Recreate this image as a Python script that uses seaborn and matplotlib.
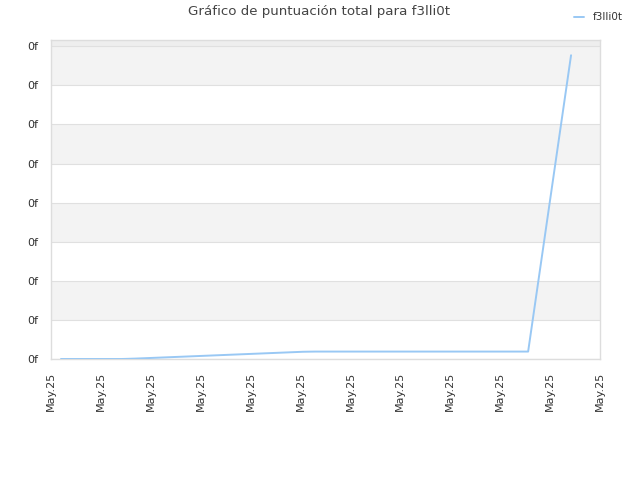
import matplotlib
matplotlib.use("Agg")
import matplotlib.pyplot as plt
import seaborn as sns
import pandas as pd
from matplotlib.ticker import FixedLocator, FuncFormatter

sns.set_theme(style="white")
plt.rcParams['font.family'] = ['DejaVu Sans']

# data (x in tick units, y in arbitrary score units)
time_pos = [0.20, 1.42, 1.68, 2.16, 2.65, 3.13, 3.61, 4.09, 4.57, 5.05, 5.29, 8.66, 9.56, 10.42]
score = [0.0, 0.0, 0.01, 0.035, 0.06, 0.085, 0.11, 0.135, 0.16, 0.185, 0.19, 0.19, 0.19, 7.77]
player = "f3lli0t"
x_labels = ["May.25"] * 12
y_tick_vals = [0, 1, 2, 3, 4, 5, 6, 7, 8]
y_tick_label = "0f"

df = pd.DataFrame({"t": time_pos, "score": score, "player": player})

fig = plt.figure(figsize=(6.4, 4.8), dpi=100)
ax = fig.add_axes([51/640, 1-359/480, (600-51)/640, (359-40)/480])

ymax = 8.16
ax.set_xlim(0, 11)
ax.set_ylim(0, ymax)

# alternating bands
for i in range(len(y_tick_vals) - 1):
    if i % 2 == 1:
        ax.axhspan(y_tick_vals[i], y_tick_vals[i+1], color="#f3f3f3", zorder=0, lw=0)
ax.axhspan(y_tick_vals[-1], ymax, color="#eeeeee", zorder=0, lw=0)
for v in y_tick_vals:
    ax.axhline(v, color="#e0e0e0", lw=0.8, zorder=1)

sns.lineplot(data=df, x="t", y="score", hue="player", palette=["#99c8f4"],
             linewidth=1.4, ax=ax, zorder=3, legend=True)

ax.xaxis.set_major_locator(FixedLocator(list(range(12))))
ax.set_xticklabels(x_labels, rotation=90, fontsize=8, color="#333333")
ax.yaxis.set_major_locator(FixedLocator(y_tick_vals))
ax.yaxis.set_major_formatter(FuncFormatter(lambda v, p: y_tick_label))
ax.tick_params(axis="y", labelsize=8, labelcolor="#333333", length=0, pad=9.5)
ax.tick_params(axis="x", length=0, pad=9.5)
ax.set_xlabel("")
ax.set_ylabel("")
for s in ax.spines.values():
    s.set_color("#dddddd")
    s.set_linewidth(1)

leg = ax.legend(loc="upper right", bbox_to_anchor=(632/640, 1-3/480), bbox_transform=fig.transFigure,
                frameon=False, fontsize=7.5, handlelength=1.0, handletextpad=0.8)
for t in leg.get_texts():
    t.set_color("#333333")

fig.text(319/640, 1-12/480, "Gráfico de puntuación total para f3lli0t", ha="center", va="center",
         fontsize=9.6, color="#444444")

fig.savefig("out.png", dpi=100)
